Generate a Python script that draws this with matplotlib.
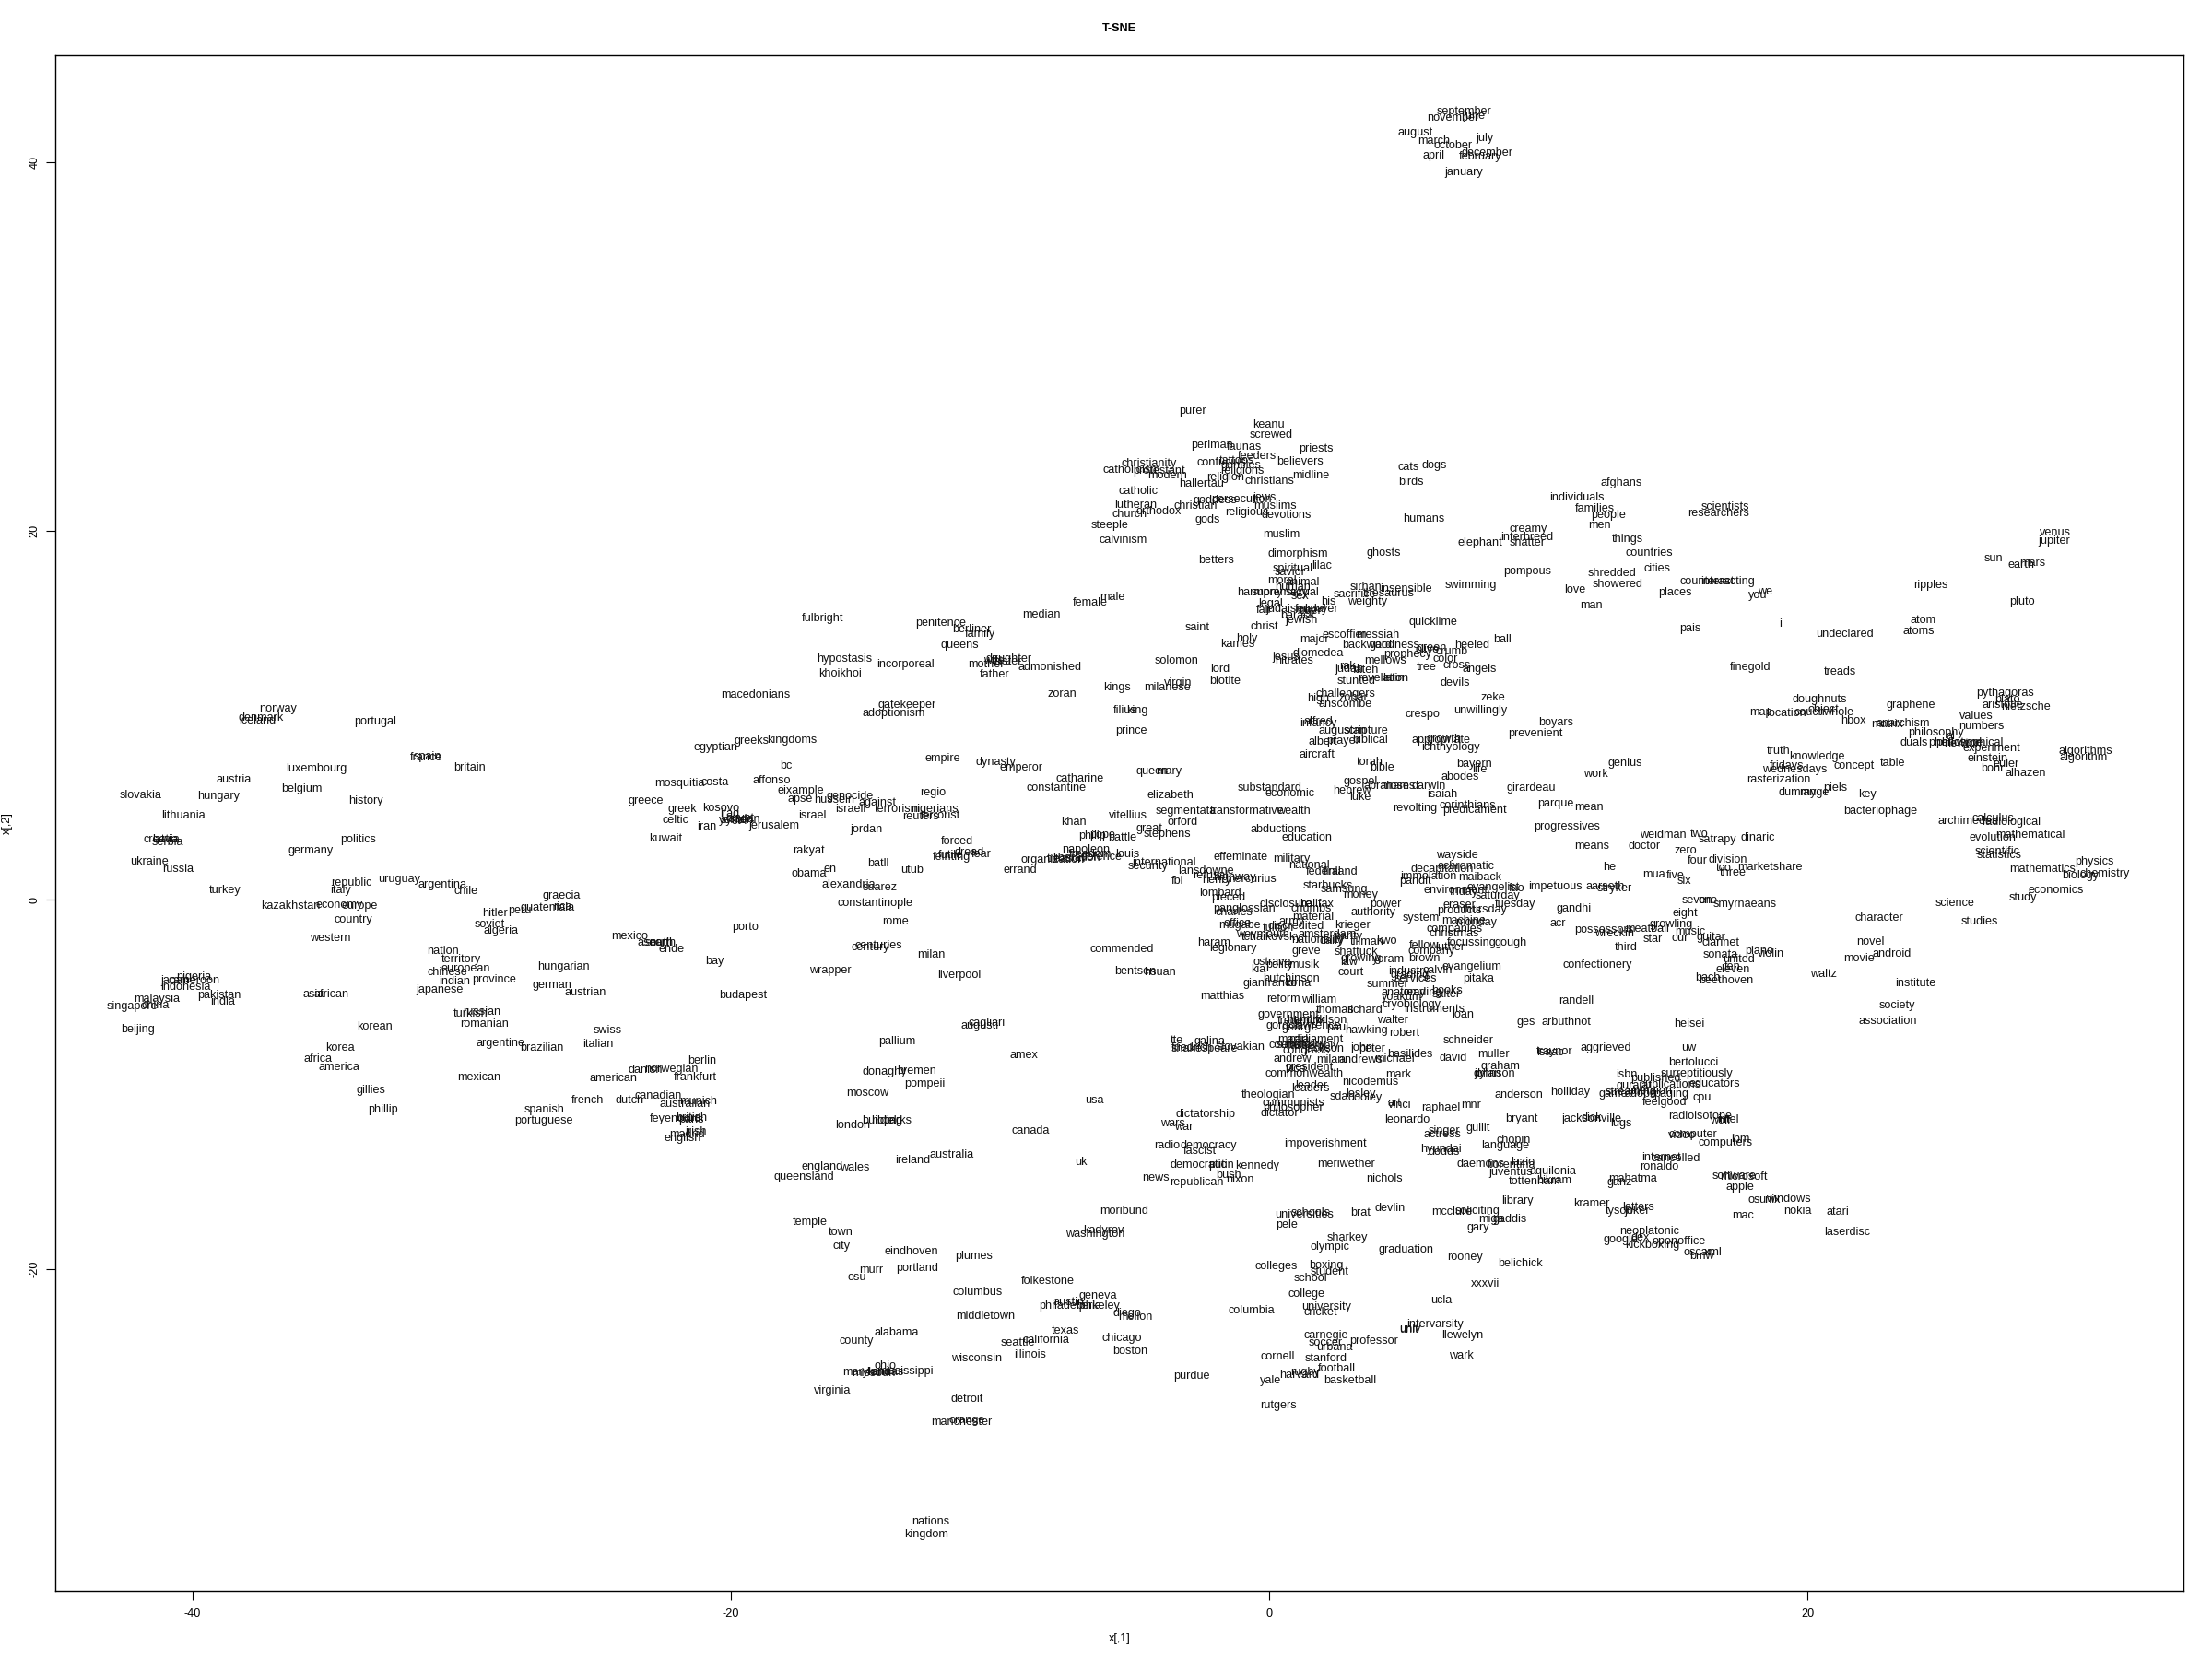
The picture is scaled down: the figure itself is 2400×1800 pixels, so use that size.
import matplotlib
matplotlib.use('Agg')
import matplotlib.pyplot as plt

plt.rcParams['font.family'] = ['Liberation Sans', 'DejaVu Sans']
plt.rcParams['axes.unicode_minus'] = False

# word positions, (word, x[,1], x[,2]), one list per area
countries_west = [
    ('norway', -36.82, 10.37), ('denmark', -37.46, 9.85), ('iceland', -37.61, 9.71),
    ('portugal', -33.2, 9.67), ('spain', -31.28, 7.78), ('france', -31.32, 7.71),
    ('britain', -29.69, 7.17), ('luxembourg', -35.39, 7.12), ('austria', -38.46, 6.53),
    ('belgium', -35.94, 6.03), ('slovakia', -41.93, 5.68), ('hungary', -39.03, 5.62),
    ('history', -33.55, 5.39), ('lithuania', -40.35, 4.59), ('croatia', -41.19, 3.29),
    ('latvia', -41.0, 3.29), ('serbia', -40.94, 3.11), ('politics', -33.85, 3.29),
    ('germany', -35.61, 2.68), ('ukraine', -41.59, 2.09), ('russia', -40.53, 1.68),
    ('republic', -34.1, 0.93), ('uruguay', -32.32, 1.13), ('argentina', -30.72, 0.84),
    ('italy', -34.5, 0.52), ('chile', -29.84, 0.45), ('turkey', -38.8, 0.54),
    ('graecia', -26.3, 0.22), ('kazakhstan', -36.35, -0.35), ('economy', -34.54, -0.28),
    ('europe', -33.79, -0.35), ('peru', -27.83, -0.57), ('guatemala', -26.81, -0.41),
    ('rica', -26.25, -0.36), ('hitler', -28.78, -0.71), ('country', -34.02, -1.07),
    ('soviet', -28.96, -1.32), ('algeria', -28.56, -1.66), ('western', -34.9, -2.07),
]
peoples_west = [
    ('nation', -30.69, -2.76), ('territory', -30.03, -3.21), ('european', -29.84, -3.71),
    ('chinese', -30.52, -3.92), ('hungarian', -26.2, -3.6), ('nigeria', -39.96, -4.15),
    ('japan', -40.64, -4.39), ('cameroon', -39.96, -4.35), ('indonesia', -40.27, -4.74),
    ('indian', -30.28, -4.4), ('province', -28.81, -4.33), ('german', -26.63, -4.63),
    ('japanese', -30.83, -4.87), ('pakistan', -39.02, -5.17), ('asia', -35.5, -5.1),
    ('african', -34.83, -5.1), ('malaysia', -41.33, -5.37), ('india', -38.89, -5.51),
    ('china', -41.37, -5.72), ('singapore', -42.23, -5.76), ('russian', -29.26, -6.06),
    ('turkish', -29.66, -6.17), ('romanian', -29.16, -6.7), ('korean', -33.22, -6.85),
    ('beijing', -42.05, -7.01), ('argentine', -28.56, -7.77), ('brazilian', -27.01, -8.01),
    ('korea', -34.51, -8.01), ('africa', -35.34, -8.61), ('america', -34.57, -9.06),
    ('mexican', -29.37, -9.61), ('gillies', -33.38, -10.31), ('phillip', -32.93, -11.36),
    ('spanish', -26.94, -11.36), ('portuguese', -26.97, -11.95),
    ('austrian', -25.39, -5.0), ('swiss', -24.58, -7.05), ('italian', -24.95, -7.8),
    ('berlin', -21.08, -8.7), ('danish', -23.19, -9.21), ('norwegian', -22.22, -9.16),
    ('american', -24.38, -9.66), ('frankfurt', -21.34, -9.61), ('canadian', -22.69, -10.61),
    ('french', -25.32, -10.86), ('dutch', -23.78, -10.86), ('munich', -21.21, -10.91),
    ('australian', -21.7, -11.06), ('feyenoord', -22.04, -11.86), ('british', -21.47, -11.83),
    ('paris', -21.47, -11.91), ('irish', -21.3, -12.57), ('madrid', -21.64, -12.69),
    ('english', -21.79, -12.91),
]
middle_east = [
    ('fulbright', -16.6, 15.28), ('penitence', -12.22, 15.01), ('berliner', -11.05, 14.68),
    ('family', -10.75, 14.4), ('median', -8.46, 15.44), ('queens', -11.51, 13.81),
    ('hypostasis', -15.79, 13.08), ('incorporeal', -13.5, 12.78), ('mother', -10.51, 12.76),
    ('daughter', -9.68, 13.06), ('wife', -10.22, 12.95), ('sister', -9.71, 12.93),
    ('khoikhoi', -15.95, 12.28), ('father', -10.19, 12.23), ('admonished', -8.15, 12.6),
    ('zoran', -7.68, 11.16), ('macedonians', -19.07, 11.13), ('gatekeeper', -13.44, 10.57),
    ('adoptionism', -13.94, 10.13), ('greeks', -19.24, 8.64), ('kingdoms', -17.72, 8.67),
    ('egyptian', -20.57, 8.29), ('empire', -12.14, 7.69), ('bc', -17.94, 7.29),
    ('dynasty', -10.14, 7.49), ('emperor', -9.2, 7.19), ('mosquitia', -21.9, 6.34),
    ('costa', -20.58, 6.39), ('affonso', -18.48, 6.49), ('eixample', -17.39, 5.94),
    ('regio', -12.51, 5.84), ('genocide', -15.57, 5.62), ('apse', -17.43, 5.47),
    ('hussein', -16.16, 5.44), ('against', -14.55, 5.29), ('greece', -23.15, 5.37),
    ('greek', -21.79, 4.94), ('kosovo', -20.36, 4.99), ('israeli', -15.55, 4.94),
    ('terrorism', -13.82, 4.91), ('nigerians', -12.43, 4.94), ('terrorist', -12.22, 4.57),
    ('reuters', -12.96, 4.54), ('iraq', -20.06, 4.69), ('egypt', -19.64, 4.41),
    ('syria', -19.93, 4.32), ('sudan', -19.47, 4.36), ('yemen', -19.8, 4.32),
    ('celtic', -22.04, 4.34), ('israel', -16.97, 4.59), ('iran', -20.89, 3.99),
    ('jerusalem', -18.39, 4.04), ('jordan', -14.96, 3.84), ('kuwait', -22.44, 3.34),
    ('forced', -11.58, 3.19), ('rakyat', -17.12, 2.69), ('futile', -11.82, 2.41),
    ('feinting', -11.79, 2.33), ('dread', -11.14, 2.58), ('fear', -10.68, 2.49),
    ('batll', -14.54, 1.99), ('en', -16.33, 1.68), ('obama', -17.11, 1.43),
    ('utub', -13.26, 1.63), ('errand', -9.25, 1.6), ('alexandria', -15.61, 0.83),
    ('suarez', -14.46, 0.69), ('constantinople', -14.64, -0.16), ('rome', -13.89, -1.15),
    ('porto', -19.48, -1.45), ('mexico', -23.77, -1.97), ('asean', -22.89, -2.34),
    ('south', -22.67, -2.34), ('north', -22.55, -2.32), ('ende', -22.22, -2.67),
    ('centuries', -14.5, -2.45), ('century', -14.82, -2.59), ('milan', -12.55, -2.95),
    ('bay', -20.59, -3.32), ('wrapper', -16.32, -3.82), ('liverpool', -11.51, -4.05),
    ('budapest', -19.54, -5.17), ('cagliari', -10.51, -6.67), ('augusti', -10.74, -6.83),
]
places_south = [
    ('pallium', -13.82, -7.66), ('amex', -9.1, -8.41), ('donaghy', -14.28, -9.31),
    ('bremen', -13.1, -9.25), ('pompeii', -12.79, -9.99), ('moscow', -14.91, -10.45),
    ('usa', -6.49, -10.85), ('building', -14.39, -11.96), ('parks', -13.82, -11.96),
    ('hotel', -14.3, -11.96), ('london', -15.46, -12.19), ('canada', -8.86, -12.5),
    ('australia', -11.81, -13.8), ('ireland', -13.25, -14.09), ('uk', -6.99, -14.2),
    ('england', -16.62, -14.47), ('wales', -15.39, -14.53), ('queensland', -17.28, -15.0),
    ('moribund', -5.39, -16.84), ('temple', -17.07, -17.45), ('kadyrov', -6.14, -17.89),
    ('washington', -6.45, -18.1), ('town', -15.9, -18.0), ('city', -15.9, -18.75),
    ('eindhoven', -13.3, -19.06), ('plumes', -10.97, -19.31), ('portland', -13.09, -19.94),
    ('murr', -14.8, -20.05), ('osu', -15.3, -20.45), ('folkestone', -8.22, -20.64),
    ('columbus', -10.84, -21.24), ('geneva', -6.37, -21.47), ('austin', -7.43, -21.79),
    ('philadelphia', -7.4, -22.0), ('berkeley', -6.38, -22.02), ('diego', -5.26, -22.42),
    ('mellon', -4.97, -22.59), ('middletown', -10.55, -22.54), ('alabama', -13.86, -23.46),
    ('county', -15.35, -23.91), ('texas', -7.57, -23.34), ('chicago', -5.47, -23.76),
    ('california', -8.29, -23.84), ('seattle', -9.34, -23.99), ('boston', -5.17, -24.45),
    ('illinois', -8.88, -24.64), ('wisconsin', -10.87, -24.85), ('ohio', -14.25, -25.25),
    ('mississippi', -13.54, -25.54), ('maryland', -14.97, -25.58), ('kansas', -14.28, -25.58),
    ('missouri', -14.68, -25.67), ('virginia', -16.23, -26.59), ('detroit', -11.22, -27.03),
    ('orange', -11.22, -28.2), ('manchester', -11.43, -28.29), ('nations', -12.59, -33.7),
    ('kingdom', -12.74, -34.39),
]
religion_words = [
    ('purer', -2.85, 26.5), ('keanu', -0.03, 25.77), ('screwed', 0.06, 25.22),
    ('perlman', -2.12, 24.65), ('faunas', -0.92, 24.57), ('priests', 1.74, 24.47),
    ('feeders', -0.46, 24.05), ('confucius', -1.78, 23.72), ('tattoos', -1.21, 23.8),
    ('gentiles', -1.03, 23.55), ('believers', 1.16, 23.77), ('christianity', -4.47, 23.67),
    ('catholicism', -5.09, 23.3), ('protestant', -4.08, 23.25), ('modern', -3.77, 23.0),
    ('religions', -1.0, 23.24), ('religion', -1.63, 22.9), ('midline', 1.56, 23.0),
    ('christians', 0.0, 22.72), ('hallertau', -2.51, 22.56), ('catholic', -4.88, 22.16),
    ('cats', 5.19, 23.45), ('dogs', 6.13, 23.55), ('birds', 5.28, 22.67),
    ('lutheran', -4.97, 21.41), ('goddess', -2.0, 21.67), ('persecution', -1.03, 21.72),
    ('jews', -0.18, 21.81), ('muslims', 0.22, 21.37), ('christian', -2.72, 21.34),
    ('orthodox', -4.12, 21.04), ('church', -5.17, 20.91), ('religious', -0.84, 21.02),
    ('devotions', 0.63, 20.87), ('gods', -2.29, 20.62), ('humans', 5.75, 20.67),
    ('steeple', -5.91, 20.32), ('muslim', 0.45, 19.82), ('calvinism', -5.41, 19.53),
    ('dimorphism', 1.08, 18.78), ('ghosts', 4.25, 18.81), ('betters', -1.95, 18.43),
    ('lilac', 1.97, 18.13), ('spiritual', 0.88, 17.96), ('savior', 0.76, 17.76),
    ('moral', 0.47, 17.31), ('animal', 1.25, 17.23), ('human', 0.88, 16.98),
    ('sirhan', 3.61, 16.94), ('insensible', 5.07, 16.86), ('harmony', -0.35, 16.68),
    ('supremacy', 0.39, 16.68), ('sexual', 1.25, 16.68), ('sex', 1.16, 16.48),
    ('sacrifice', 3.19, 16.56), ('thesaurus', 4.44, 16.61), ('weighty', 3.65, 16.18),
    ('his', 2.2, 16.18), ('legal', 0.05, 16.06), ('fair', -0.18, 15.7),
    ('judaism', 0.62, 15.78), ('feudal', 1.53, 15.78), ('tiger', 1.53, 15.65),
    ('lawyer', 1.93, 15.78), ('barack', 1.08, 15.4), ('jewish', 1.19, 15.15),
    ('male', -5.83, 16.41), ('female', -6.65, 16.11), ('quicklime', 6.08, 15.06),
    ('saint', -2.68, 14.78), ('christ', -0.19, 14.81), ('escoffier', 2.79, 14.38),
    ('messiah', 4.05, 14.38), ('holy', -0.84, 14.15), ('major', 1.68, 14.11),
    ('kames', -1.17, 13.85), ('backward', 3.65, 13.81), ('goodness', 4.67, 13.81),
    ('green', 6.04, 13.65), ('olive', 5.87, 13.56), ('crumb', 6.79, 13.48),
    ('prophecy', 5.13, 13.33), ('diomedea', 1.82, 13.38), ('jesus', 0.62, 13.18),
    ('nitrates', 0.93, 12.98), ('mellows', 4.3, 12.98), ('solomon', -3.44, 12.98),
    ('color', 6.53, 13.07), ('tree', 5.86, 12.63), ('cross', 6.96, 12.71),
    ('judah', 2.96, 12.52), ('rak', 2.9, 12.68), ('fateh', 3.59, 12.48),
    ('lord', -1.83, 12.53), ('biotite', -1.63, 11.88), ('stunted', 3.23, 11.87),
    ('revelation', 4.25, 12.02), ('latin', 4.62, 12.02), ('devils', 6.92, 11.77),
    ('kings', -5.66, 11.53), ('virgin', -3.38, 11.77), ('milanese', -3.8, 11.52),
    ('challengers', 2.85, 11.18), ('high', 1.82, 10.93), ('zohar', 3.13, 10.95),
    ('anscombe', 2.82, 10.62), ('crespo', 5.69, 10.07), ('filius', -5.35, 10.28),
    ('king', -4.92, 10.28), ('prince', -5.11, 9.17), ('alfred', 1.82, 9.68),
    ('infancy', 1.84, 9.54), ('augustan', 2.73, 9.19), ('scripture', 3.59, 9.19),
    ('albert', 1.99, 8.57), ('prayer', 2.73, 8.62), ('biblical', 3.76, 8.69),
    ('aircraft', 1.78, 7.87), ('appropriate', 6.39, 8.69), ('growth', 6.5, 8.74),
    ('ichthyology', 6.73, 8.29),
]
middle_words = [
    ('torah', 3.75, 7.49), ('bible', 4.19, 7.19), ('queen', -4.35, 6.95), ('mary', -3.73, 6.95),
    ('catharine', -7.05, 6.59), ('constantine', -7.91, 6.09), ('gospel', 3.41, 6.41),
    ('abraham', 4.38, 6.19), ('moses', 4.78, 6.16), ('substandard', 0.01, 6.07),
    ('economic', 0.78, 5.79), ('hebrew', 3.09, 5.94), ('luke', 3.39, 5.57),
    ('elizabeth', -3.66, 5.69), ('segmentata', -3.1, 4.82), ('transformative', -0.81, 4.82),
    ('wealth', 0.9, 4.82), ('vitellius', -5.24, 4.59), ('khan', -7.25, 4.24),
    ('orford', -3.22, 4.24), ('great', -4.44, 3.86), ('abductions', 0.35, 3.82),
    ('stephens', -3.78, 3.59), ('philip', -6.58, 3.48), ('pope', -6.18, 3.51),
    ('battle', -5.46, 3.36), ('education', 1.42, 3.39), ('napoleon', -6.81, 2.74),
    ('louis', -5.27, 2.49), ('organization', -8.06, 2.19), ('liberation', -7.15, 2.28),
    ('treason', -7.55, 2.23), ('freedom', -6.64, 2.49), ('defence', -6.24, 2.33),
    ('international', -3.9, 2.04), ('security', -4.49, 1.83), ('effeminate', -1.07, 2.33),
    ('military', 0.84, 2.23), ('national', 1.5, 1.88), ('federal', 2.04, 1.53),
    ('finland', 2.67, 1.54), ('lansdowne', -2.36, 1.58), ('refusal', -2.18, 1.33),
    ('highway', -1.27, 1.24), ('henry', -1.96, 1.08), ('mercurius', -0.7, 1.14),
    ('fbi', -3.42, 1.04), ('starbucks', 2.19, 0.78), ('samsung', 2.8, 0.58),
    ('money', 3.41, 0.25), ('lombard', -1.82, 0.38), ('pieced', -1.5, 0.11),
    ('power', 4.32, -0.22), ('disclosure', 0.61, -0.25), ('halifax', 1.75, -0.25),
    ('chumbs', 1.58, -0.47), ('panglossian', -0.93, -0.47), ('charles', -1.29, -0.67),
    ('authority', 3.87, -0.67), ('material', 1.64, -0.95), ('army', 0.84, -1.17),
    ('office', -1.18, -1.27), ('mugabe', -1.1, -1.37), ('krieger', 3.09, -1.37),
    ('discredited', 1.01, -1.42), ('tuition', 0.33, -1.54), ('weymouth', -0.24, -1.87),
    ('tchaikovsky', 0.1, -2.04), ('amsterdam', 2.15, -1.87), ('parity', 2.95, -1.97),
    ('nationality', 1.81, -2.17), ('daily', 2.33, -2.2), ('tillman', 3.64, -2.25),
    ('kwo', 4.35, -2.22), ('haram', -2.05, -2.3), ('legionary', -1.35, -2.62),
    ('commended', -5.47, -2.65), ('greve', 1.39, -2.77), ('shattuck', 3.22, -2.8),
    ('growing', 3.41, -3.17), ('yoram', 4.44, -3.22), ('law', 2.95, -3.38),
    ('ostrava', 0.12, -3.38), ('kia', -0.41, -3.75), ('polity', 0.38, -3.53),
    ('musik', 1.3, -3.5), ('court', 3.03, -3.92), ('bentsen', -4.98, -3.87),
    ('hsuan', -4.07, -3.9), ('hutchinson', 0.82, -4.28), ('gianfranco', 0.04, -4.53),
    ('lorna', 1.07, -4.53), ('summer', 4.41, -4.55), ('matthias', -1.75, -5.22),
    ('reform', 0.53, -5.37), ('william', 1.85, -5.42), ('thomas', 2.44, -5.95),
    ('richard', 3.56, -5.95), ('government', 0.73, -6.21), ('walter', 4.57, -6.5),
    ('hendrik', 1.36, -6.5), ('wilson', 2.27, -6.5), ('frederick', 1.13, -6.58),
    ('george', 1.13, -6.92), ('gordon', 0.56, -6.83), ('lawrence', 1.81, -6.8),
    ('paul', 2.55, -6.92), ('hawking', 3.62, -7.05), ('robert', 5.01, -7.2),
    ('tte', -3.42, -7.61), ('galina', -2.22, -7.66), ('slovakian', -1.04, -7.96),
    ('shakespeare', -2.41, -8.08), ('friedrich', -2.87, -8.03), ('madia', 0.9, -7.58),
    ('parliament', 1.75, -7.58), ('ministry', 1.35, -7.83), ('senate', 0.9, -7.88),
    ('council', 0.67, -7.88), ('assembly', 1.7, -7.91), ('congress', 1.36, -8.16),
    ('jackson', 2.04, -8.05), ('john', 3.44, -8.0), ('peter', 3.81, -8.08),
    ('basilides', 5.24, -8.36),
]
politics_words = [
    ('andrew', 0.88, -8.6), ('milan', 2.27, -8.67), ('andrews', 3.41, -8.67),
    ('michael', 4.67, -8.62), ('president', 1.49, -9.08), ('vice', 1.01, -9.16),
    ('commonwealth', 1.3, -9.41), ('mark', 4.8, -9.45), ('nicodemus', 3.75, -9.85),
    ('leader', 1.56, -10.08), ('leaders', 1.53, -10.21), ('lesley', 3.41, -10.53),
    ('sda', 2.61, -10.66), ('dooley', 3.58, -10.71), ('theologian', -0.02, -10.55),
    ('communists', 0.92, -11.0), ('philosopher', 0.9, -11.25), ('dictator', 0.38, -11.55),
    ('dictatorship', -2.37, -11.6), ('vinci', 4.84, -11.13), ('art', 4.67, -11.0),
    ('leonardo', 5.12, -11.9), ('wars', -3.58, -12.11), ('war', -3.19, -12.3),
    ('impoverishment', 2.1, -13.19), ('radio', -3.78, -13.33), ('democracy', -2.26, -13.33),
    ('fascist', -2.57, -13.61), ('meriwether', 2.87, -14.29), ('democratic', -2.64, -14.36),
    ('putin', -1.78, -14.36), ('kennedy', -0.44, -14.39), ('bush', -1.5, -14.91),
    ('nixon', -1.09, -15.14), ('nichols', 4.27, -15.11), ('news', -4.23, -15.06),
    ('republican', -2.68, -15.29), ('schools', 1.53, -16.96), ('universities', 1.3, -17.06),
    ('brat', 3.41, -16.94), ('devlin', 4.48, -16.71), ('pele', 0.67, -17.6),
    ('sharkey', 2.9, -18.29),
]
college_words = [
    ('mcclure', 6.78, -16.91), ('soliciting', 7.73, -16.86), ('library', 9.23, -16.33),
    ('kramer', 11.97, -16.44), ('miga', 8.24, -17.31), ('gaddis', 8.95, -17.29),
    ('gary', 7.76, -17.76), ('olympic', 2.27, -18.79), ('graduation', 5.09, -18.94),
    ('rooney', 7.28, -19.34), ('belichick', 9.33, -19.69), ('colleges', 0.25, -19.86),
    ('boxing', 2.13, -19.79), ('student', 2.25, -20.14), ('school', 1.53, -20.5),
    ('xxxvii', 8.04, -20.79), ('college', 1.37, -21.35), ('ucla', 6.41, -21.7),
    ('university', 2.11, -22.05), ('cricket', 1.92, -22.35), ('columbia', -0.67, -22.25),
    ('intervarsity', 6.18, -22.99), ('univ', 5.24, -23.24), ('unit', 5.18, -23.32),
    ('llewelyn', 7.18, -23.6), ('carnegie', 2.12, -23.6), ('soccer', 2.08, -23.99),
    ('professor', 3.89, -23.9), ('urbana', 2.44, -24.25), ('cornell', 0.32, -24.75),
    ('wark', 7.12, -24.7), ('stanford', 2.11, -24.83), ('football', 2.5, -25.38),
    ('rugby', 1.32, -25.58), ('harvard', 1.1, -25.73), ('purdue', -2.87, -25.78),
    ('yale', 0.06, -26.05), ('basketball', 2.99, -26.05), ('rutgers', 0.35, -27.4),
]
numbers_music = [
    ('genius', 13.22, 7.42), ('work', 12.12, 6.82), ('bayern', 7.61, 7.37), ('life', 7.81, 7.07),
    ('abodes', 7.11, 6.69), ('darwin', 5.92, 6.19), ('isaiah', 6.44, 5.74),
    ('girardeau', 9.74, 6.07), ('revolting', 5.41, 4.97), ('corinthians', 7.38, 5.12),
    ('predicament', 7.63, 4.89), ('parque', 10.66, 5.22), ('mean', 11.88, 5.02),
    ('progressives', 11.06, 3.97), ('weidman', 14.62, 3.52), ('two', 15.99, 3.58),
    ('satrapy', 16.65, 3.29), ('dinaric', 18.14, 3.38), ('means', 12.0, 2.93),
    ('doctor', 13.94, 2.93), ('zero', 15.48, 2.68), ('four', 15.93, 2.14),
    ('division', 17.05, 2.18), ('tco', 16.88, 1.74), ('three', 17.22, 1.49),
    ('marketshare', 18.62, 1.78), ('wayside', 6.98, 2.43), ('achromatic', 7.32, 1.83),
    ('decapitation', 6.41, 1.69), ('he', 12.63, 1.79), ('immolation', 5.92, 1.29),
    ('maiback', 7.83, 1.23), ('mua', 14.29, 1.38), ('five', 15.08, 1.33), ('six', 15.43, 1.04),
    ('pandit', 5.41, 1.04), ('impetuous', 10.64, 0.73), ('aarseth', 12.49, 0.73),
    ('stryker', 12.83, 0.64), ('evangelist', 8.32, 0.69), ('environment', 6.95, 0.53),
    ('friday', 7.23, 0.41), ('saturday', 8.49, 0.23), ('fao', 9.2, 0.63), ('seven', 15.91, -0.04),
    ('one', 16.31, -0.04), ('smyrnaeans', 17.66, -0.22), ('tuesday', 9.15, -0.22),
    ('gandhi', 11.31, -0.47), ('eraser', 7.06, -0.29), ('products', 7.06, -0.6),
    ('thursday', 8.03, -0.55), ('eight', 15.44, -0.72), ('system', 5.64, -0.97),
    ('machine', 7.24, -1.12), ('monday', 7.69, -1.22), ('acr', 10.72, -1.27),
    ('growling', 14.94, -1.3), ('companies', 6.89, -1.55), ('possessors', 12.45, -1.64),
    ('meatball', 14.03, -1.55), ('wreckin', 12.83, -1.8), ('music', 15.63, -1.7),
    ('christmas', 6.86, -1.8), ('star', 14.26, -2.12), ('our', 15.26, -2.07),
    ('guitar', 16.42, -2.0), ('focussing', 7.52, -2.3), ('gough', 8.98, -2.3),
    ('clarinet', 16.77, -2.3), ('fellow', 5.75, -2.47), ('luther', 6.72, -2.55),
    ('third', 13.25, -2.55), ('company', 6.04, -2.77), ('sonata', 16.77, -2.97),
    ('piano', 18.19, -2.79), ('violin', 18.65, -2.92), ('united', 17.45, -3.2),
    ('brown', 5.75, -3.17), ('confectionery', 12.2, -3.52), ('ten', 17.22, -3.63),
    ('evangelium', 7.54, -3.62), ('calvin', 6.26, -3.8), ('eleven', 17.22, -3.78),
    ('industry', 5.18, -3.87), ('grading', 5.24, -4.05), ('services', 5.43, -4.25),
    ('pitaka', 7.78, -4.27), ('bach', 16.31, -4.2), ('beethoven', 16.97, -4.37),
    ('randell', 11.4, -5.45), ('anatomy', 5.01, -5.0), ('books', 6.61, -4.92),
    ('salter', 6.58, -5.13), ('yoakum', 4.95, -5.25), ('reading', 5.69, -5.0),
    ('cryobiology', 5.29, -5.67), ('instruments', 6.15, -5.92), ('loan', 7.18, -6.21),
    ('ges', 9.53, -6.63), ('arbuthnot', 11.04, -6.61), ('heisei', 15.6, -6.7),
    ('schneider', 7.41, -7.61), ('aggrieved', 12.51, -8.01), ('uw', 15.58, -8.01),
    ('traynor', 10.6, -8.2), ('isaac', 10.43, -8.25), ('muller', 8.34, -8.38),
    ('david', 6.84, -8.58),
]
tech_words = [
    ('bertolucci', 15.77, -8.8), ('graham', 8.58, -9.02), ('johnson', 8.37, -9.42),
    ('dylan', 8.09, -9.4), ('isbn', 13.28, -9.47), ('published', 14.37, -9.67),
    ('surreptitiously', 15.89, -9.42), ('publications', 14.88, -10.03), ('educators', 16.54, -9.97),
    ('gurajat', 13.57, -10.08), ('anderson', 9.29, -10.55), ('holliday', 11.19, -10.4),
    ('game', 12.77, -10.52), ('paging', 14.94, -10.52), ('streaming', 13.45, -10.41),
    ('attention', 14.14, -10.38), ('adobe', 13.8, -10.5), ('cpu', 16.08, -10.71),
    ('feelgood', 14.68, -10.96), ('mnr', 7.5, -11.13), ('raphael', 6.38, -11.25),
    ('radioisotope', 16.02, -11.71), ('intel', 17.05, -11.92), ('wolf', 16.76, -11.97),
    ('bryant', 9.37, -11.86), ('jacksonville', 11.97, -11.86), ('dick', 11.97, -11.83),
    ('lugs', 13.09, -12.11), ('singer', 6.49, -12.53), ('gullit', 7.75, -12.36),
    ('actress', 6.43, -12.7), ('chopin', 9.08, -13.03), ('ibm', 17.51, -12.96),
    ('computer', 15.74, -12.71), ('video', 15.34, -12.76), ('language', 8.77, -13.3),
    ('computers', 16.96, -13.16), ('hyundai', 6.38, -13.5), ('dodds', 6.49, -13.66),
    ('lazio', 9.42, -14.21), ('daemons', 7.86, -14.29), ('fiorentina', 9.0, -14.38),
    ('internet', 14.56, -13.94), ('cancelled', 15.11, -13.99), ('ronaldo', 14.48, -14.44),
    ('juventus', 8.98, -14.74), ('aquilonia', 10.54, -14.69), ('tottenham', 9.86, -15.28),
    ('bikram', 10.6, -15.21), ('mahatma', 13.51, -15.09), ('ganz', 13.02, -15.31),
    ('software', 17.28, -14.96), ('microsoft', 17.62, -15.0), ('apple', 17.51, -15.56),
    ('unix', 18.59, -16.24), ('os', 18.02, -16.26), ('windows', 19.28, -16.19),
    ('letters', 13.72, -16.66), ('tyson', 13.0, -16.86), ('joker', 13.68, -16.87),
    ('nokia', 19.65, -16.86), ('atari', 21.13, -16.89), ('mac', 17.6, -17.11),
    ('neoplatonic', 14.12, -17.94), ('laserdisc', 21.49, -17.99), ('google', 13.05, -18.42),
    ('dex', 13.8, -18.32), ('openoffice', 15.22, -18.49), ('kickboxing', 14.25, -18.69),
    ('xml', 16.48, -19.09), ('bmw', 16.08, -19.32), ('oscar', 15.91, -19.12),
]
science_words = [
    ('venus', 29.21, 19.9), ('jupiter', 29.18, 19.45), ('sun', 26.93, 18.5), ('earth', 27.96, 18.17),
    ('mars', 28.36, 18.27), ('ripples', 24.58, 17.07), ('we', 18.42, 16.72), ('you', 18.16, 16.5),
    ('pluto', 27.96, 16.15), ('atom', 24.31, 15.16), ('atoms', 24.15, 14.56), ('i', 18.98, 14.97),
    ('undeclared', 21.4, 14.42), ('treads', 21.2, 12.37), ('pythagoras', 27.34, 11.21),
    ('doughnuts', 20.46, 10.86), ('plato', 27.44, 10.84), ('graphene', 23.85, 10.58),
    ('aristotle', 27.25, 10.56), ('nietzsche', 28.13, 10.48), ('object', 20.59, 10.31),
    ('location', 19.22, 10.11), ('map', 18.25, 10.14), ('whole', 21.16, 10.18),
    ('couch', 20.08, 10.14), ('values', 26.28, 9.96), ('hbox', 21.69, 9.73),
    ('anarchism', 23.56, 9.56), ('matrix', 22.97, 9.53), ('numbers', 26.46, 9.43),
    ('philosophy', 24.79, 9.06), ('al', 25.33, 8.85), ('duals', 23.95, 8.51),
    ('philosophical', 26.01, 8.51), ('phenotype', 25.5, 8.51), ('newton', 25.79, 8.45),
    ('experiment', 26.84, 8.23), ('truth', 18.94, 8.09), ('algorithms', 30.32, 8.06),
    ('algorithm', 30.27, 7.73), ('knowledge', 20.34, 7.78), ('einstein', 26.68, 7.65),
    ('euler', 27.37, 7.38), ('fridays', 19.22, 7.28), ('concept', 21.73, 7.28),
    ('table', 23.15, 7.43), ('wednesdays', 19.51, 7.06), ('bohr', 26.87, 7.11),
    ('alhazen', 28.1, 6.88), ('rasterization', 18.94, 6.51), ('piels', 21.05, 6.06),
    ('dummy', 19.62, 5.81), ('range', 20.25, 5.81), ('key', 22.22, 5.72),
    ('bacteriophage', 22.72, 4.82), ('archimedes', 25.96, 4.27), ('calculus', 26.9, 4.4),
    ('radiological', 27.56, 4.23), ('mathematical', 28.28, 3.52), ('evolution', 26.89, 3.37),
    ('scientific', 27.07, 2.62), ('statistics', 27.13, 2.44), ('physics', 30.67, 2.07),
    ('mathematics', 28.72, 1.69), ('chemistry', 31.04, 1.44), ('biology', 30.15, 1.32),
    ('economics', 29.22, 0.52), ('study', 28.02, 0.12), ('science', 25.49, -0.18),
    ('character', 22.66, -0.96), ('studies', 26.38, -1.18), ('novel', 22.34, -2.28),
    ('android', 23.13, -2.93), ('movie', 21.9, -3.18), ('waltz', 20.59, -4.01),
    ('institute', 24.03, -4.51), ('society', 23.35, -5.73), ('association', 22.98, -6.57),
]
top_right = [
    ('september', 7.23, 42.73), ('june', 7.62, 42.49), ('november', 6.83, 42.38),
    ('august', 5.42, 41.57), ('july', 8.0, 41.28), ('march', 6.13, 41.13), ('october', 6.83, 40.88),
    ('december', 8.11, 40.48), ('february', 7.84, 40.28), ('april', 6.11, 40.32),
    ('january', 7.22, 39.43), ('afghans', 13.09, 22.59), ('individuals', 11.44, 21.81),
    ('scientists', 16.93, 21.3), ('researchers', 16.69, 20.94), ('families', 12.11, 21.21),
    ('people', 12.6, 20.85), ('men', 12.27, 20.3), ('creamy', 9.63, 20.1),
    ('interbreed', 9.59, 19.67), ('shatter', 9.59, 19.38), ('elephant', 7.84, 19.36),
    ('things', 13.3, 19.56), ('countries', 14.13, 18.8), ('cities', 14.43, 17.95),
    ('pompous', 9.59, 17.8), ('shredded', 12.75, 17.71), ('showered', 12.93, 17.11),
    ('swimming', 7.49, 17.06), ('love', 11.36, 16.82), ('places', 15.08, 16.66),
    ('counteract', 16.27, 17.24), ('interacting', 17.05, 17.24), ('man', 11.97, 15.95),
    ('pais', 15.64, 14.7), ('finegold', 17.87, 12.6), ('heeled', 7.53, 13.8), ('ball', 8.67, 14.1),
    ('angels', 7.83, 12.51), ('zeke', 8.32, 10.95), ('unwillingly', 7.86, 10.26),
    ('boyars', 10.66, 9.62), ('prevenient', 9.89, 9.03),
]

x_ticks = [-40, -20, 0, 20]
y_ticks = [-20, 0, 20, 40]

all_words = (countries_west + peoples_west + middle_east + places_south + religion_words
             + middle_words + politics_words + college_words + numbers_music + tech_words
             + science_words + top_right)

fig = plt.figure(figsize=(24, 18), dpi=100)
ax = fig.add_axes([60 / 2400, 1 - 1726 / 1800, 2309 / 2400, 1666 / 1800])
ax.set_xlim(-45.1, 33.97)
ax.set_ylim(-37.44, 45.78)

for word, px, py in all_words:
    ax.text(px, py, word, ha='center', va='center', fontsize=9.1, color='#111111')

ax.set_xticks(x_ticks)
ax.set_yticks(y_ticks)
ax.tick_params(axis='both', length=7, width=0.8, labelsize=9.1)
ax.tick_params(axis='x', pad=6.5)
ax.tick_params(axis='y', pad=5)
plt.setp(ax.get_yticklabels(), rotation=90, va='center')
for side in ax.spines.values():
    side.set_linewidth(1.0)

fig.text(1214.5 / 2400, 1 - 31 / 1800, 'T-SNE', ha='center', va='center', fontsize=9.1, fontweight='bold')
fig.text(1214.5 / 2400, 1 - 1778 / 1800, 'x[,1]', ha='center', va='center', fontsize=9.1)
fig.text(8 / 2400, 1 - 893 / 1800, 'x[,2]', ha='center', va='center', fontsize=9.1, rotation=90)

fig.savefig('out.png', dpi=100)
